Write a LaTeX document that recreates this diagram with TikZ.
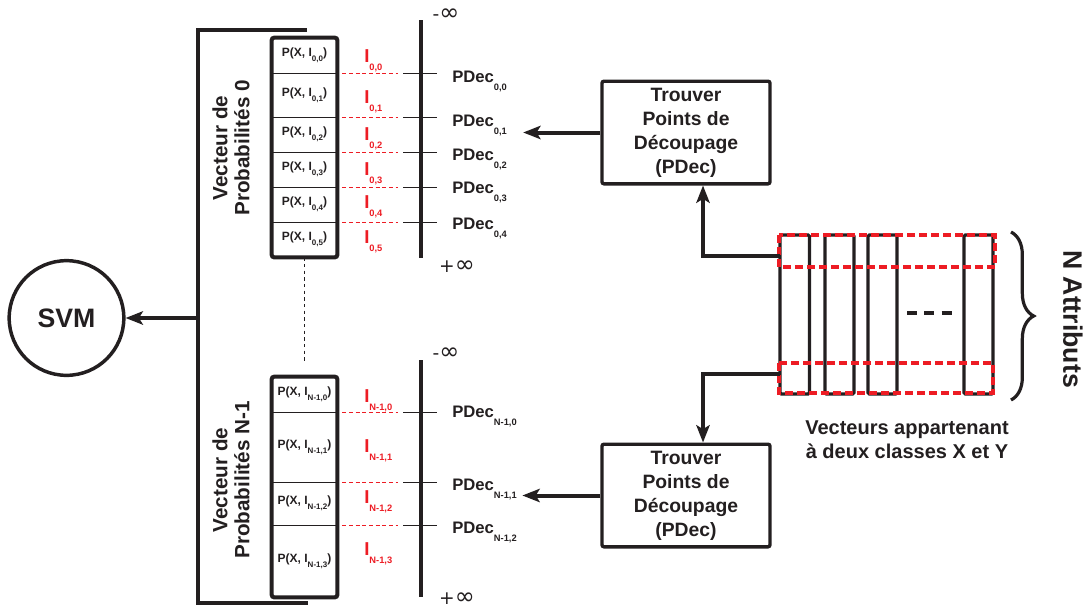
\documentclass[tikz,border=0pt]{standalone}
\usepackage{fontspec}
\setmainfont{Liberation Sans}
\newfontfamily\symfont{DejaVu Sans}
\usetikzlibrary{arrows.meta,decorations.pathreplacing}
\definecolor{ink}{RGB}{35,31,32}
\definecolor{cutred}{RGB}{237,28,36}
\newcommand{\pidx}[1]{\raisebox{-4pt}{\fontsize{6}{7}\selectfont#1}}
\newcommand{\bidx}[1]{\raisebox{-6pt}{\fontsize{7}{8}\selectfont#1}}
\newcommand{\sgn}[1]{{\fontsize{14}{15}\selectfont#1}}
\begin{document}
\begin{tikzpicture}[x=0.75pt, y=-0.75pt, color=ink,
  arr/.style={line width=3pt, -{Stealth[length=13pt, width=10pt, inset=3pt]}},
  cell/.style={draw, line width=0.6pt, minimum width=48.75pt, inner sep=0pt, font=\fontsize{9}{10}\selectfont\bfseries},
  vbox/.style={line width=3pt, rounded corners=2pt},
  ilab/.style={anchor=base west, inner sep=0pt, text=cutred, font=\fontsize{14}{15}\selectfont\bfseries},
  plab/.style={anchor=base west, inner sep=0pt, font=\fontsize{12.5}{14}\selectfont\bfseries},
  cut/.style={cutred, line width=0.6pt, dash pattern=on 3pt off 2pt},
  tick/.style={line width=0.6pt},
  axis/.style={line width=3pt},
  inf/.style={inner sep=0pt, text height=12pt, text depth=0pt, font=\fontsize{18}{19}\selectfont\symfont},
  vlab/.style={rotate=90, align=center, font=\fontsize{15.5}{16.5}\selectfont\bfseries},
  findbox/.style={draw, line width=2.5pt, rounded corners=1.5pt, minimum width=126pt, minimum height=77pt, align=center, font=\fontsize{14.5}{18}\selectfont\bfseries},
  colline/.style={line width=2.4pt, rounded corners=1pt},
  redbox/.style={cutred, line width=2.4pt, dash pattern=on 6pt off 3pt}
]
\useasboundingbox (0,0) rectangle (1086,611);

% SVM and the bracket
\node[draw, circle, line width=2.6pt, minimum size=86pt, inner sep=0pt, font=\fontsize{20}{24}\selectfont\bfseries] (svm) at (66.5,318) {SVM};
\draw[line width=2.6pt] (307,30) -- (198,30) -- (198,603) -- (308,603);
\coordinate (join) at (198,318);
\draw[arr] (join) -- (svm);

% vector 0
\node[vlab] (v0) at (231,148) {Vecteur de\\Probabilités 0};
\foreach \n/\a/\b in {0/38/73, 1/73/117, 2/117/152, 3/152/187, 4/187/222, 5/222/257}
  \node[cell, minimum height={(\b-\a)*0.75pt}] (c\n) at (304.5,{(\a+\b)/2}) {P(X, I\pidx{0,\n})};
\draw[vbox] (c0.north west) rectangle (c5.south east);

% vector N-1
\node[vlab] (v1) at (231,480) {Vecteur de\\Probabilités N-1};
\foreach \n/\a/\b in {0/377/412, 1/412/482, 2/482/525, 3/525/597}
  \node[cell, minimum height={(\b-\a)*0.75pt}] (d\n) at (304.5,{(\a+\b)/2}) {P(X, I\pidx{N-1,\n})};
\draw[vbox] (d0.north west) rectangle (d3.south east);
\draw[line width=0.6pt, dash pattern=on 2.5pt off 2.5pt] (c5.south) -- ([yshift=10pt]d0.north);

% cut lines
\foreach \c in {c0,c1,c2,c3,c4,d0,d1,d2} {
  \draw[cut] (\c.south east) ++(5,0) -- ++(56,0);
  \draw[tick] (\c.south east) ++(66,0) -- ++(34,0);
}

% axes
\draw[axis] (421,20) -- (421,258);
\draw[axis] (421,360) -- (421,597);
\node[inf] (mi0) at (446,12) {\sgn{-}∞};
\node[inf] (pi0) at (457,264) {\sgn{+}∞};
\node[inf] (mi1) at (446,351) {\sgn{-}∞};
\node[inf] (pi1) at (457,596) {\sgn{+}∞};

% intervals
\foreach \n/\y in {0/62, 1/103, 2/140, 3/175, 4/208, 5/243}
  \node[ilab] (i0\n) at (364,\y) {I\bidx{0,\n}};
\foreach \n/\y in {0/402, 1/452, 2/503, 3/555}
  \node[ilab] (iN\n) at (364,\y) {I\bidx{N-1,\n}};

% cut points
\foreach \n/\y in {0/82, 1/126, 2/160, 3/193, 4/229}
  \node[plab] (pd0\n) at (452,\y) {PDec\bidx{0,\n}};
\foreach \n/\y in {0/417, 1/490, 2/533}
  \node[plab] (pdN\n) at (452,\y) {PDec\bidx{N-1,\n}};

% finding the cut points
\node[findbox] (find0) at (686,132.5) {Trouver\\Points de\\Découpage\\(PDec)};
\node[findbox] (find1) at (686,495.5) {Trouver\\Points de\\Découpage\\(PDec)};
\draw[arr] (find0.west) -- ([xshift=12pt]find0.west -| pd01.east);
\draw[arr] (find1.west) -- ([xshift=4pt]find1.west -| pdN1.east);

% vectors of the two classes
\foreach \l/\r in {780/809.5, 825/854, 868/897, 964/993}
  \draw[colline] (\l,235) rectangle (\r,394);
\draw[redbox] (779,235) rectangle (995,267);
\draw[redbox] (779,363) rectangle (993,393);
\draw[line width=2.4pt, dash pattern=on 7.5pt off 5.5pt] (907,313) -- (952,313);
\coordinate (tap0) at (780,256);
\coordinate (tap1) at (780,374);
\draw[arr] (tap0) -| ([xshift=12.75pt]find0.south);
\draw[arr] (tap1) -| ([xshift=12.75pt]find1.north);
\draw[line width=2.4pt, decorate, decoration={brace, amplitude=17pt}] (1011,232) -- (1011,400);
\node[rotate=-90, font=\fontsize{20}{24}\selectfont\bfseries] (natt) at (1073,319) {N Attributs};
\node[align=center, font=\fontsize{15}{18}\selectfont\bfseries] (vxy) at (907,440) {Vecteurs appartenant\\à deux classes X et Y};
\end{tikzpicture}
\end{document}
